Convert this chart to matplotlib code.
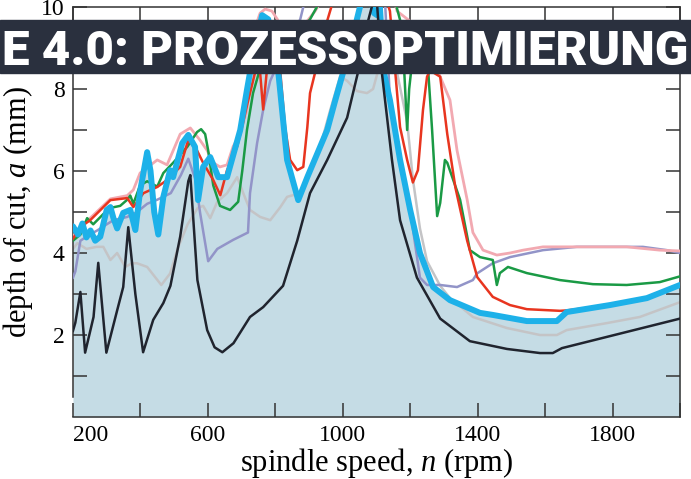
import matplotlib.pyplot as plt
from matplotlib.patches import Rectangle

plt.rcParams["font.family"] = ["Liberation Serif", "DejaVu Serif"]
plt.rcParams["mathtext.fontset"] = "custom"
plt.rcParams["mathtext.rm"] = "Liberation Serif"
plt.rcParams["mathtext.it"] = "Liberation Serif:italic"

# stability lobes, spindle speed n (rpm) vs depth of cut a (mm)
black_n = [200, 207, 222, 236, 261, 275, 299, 331, 349, 364, 385, 408, 438, 468, 489, 518, 542, 548,
           569, 598, 620, 643, 676, 725, 764, 823, 865, 903, 954, 1013, 1045, 1070, 1099, 1116, 1146,
           1170, 1220, 1289, 1377, 1487, 1585, 1623, 1650, 2000]
black_a = [2.1, 2.3, 3.05, 1.57, 2.44, 3.76, 1.57, 2.6, 3.17, 4.63, 3.0, 1.58, 2.37, 2.78, 3.2, 4.4, 5.75, 5.9,
           3.34, 2.12, 1.7, 1.58, 1.8, 2.44, 2.68, 3.2, 4.3, 5.46, 6.27, 7.3, 8.4, 9.5, 10.4, 8.4, 6.27,
           4.8, 3.4, 2.4, 1.85, 1.66, 1.56, 1.56, 1.68, 2.4]

cyan_n = [200, 215, 228, 240, 252, 266, 281, 300, 311, 320, 331, 349, 370, 385, 399, 420, 430, 441, 453,
          468, 488, 497, 524, 542, 562, 571, 586, 607, 631, 657, 696, 716, 725, 740, 761, 779, 800, 809,
          835, 868, 895, 954, 977, 1001, 1030, 1051, 1057, 1081, 1093, 1102, 1108, 1122, 1140, 1170,
          1200, 1229, 1268, 1318, 1407, 1445, 1546, 1635, 1664, 1792, 1902, 2000]
cyan_a = [4.65, 4.45, 4.72, 4.38, 4.55, 4.3, 4.4, 5.05, 5.12, 4.85, 4.6, 4.98, 5.05, 4.56, 5.5, 6.46, 6.0,
          5.0, 4.45, 5.37, 6.02, 5.85, 6.68, 6.88, 6.59, 5.29, 6.1, 6.34, 5.85, 5.85, 7.0, 7.98, 8.4, 9.0,
          9.8, 9.7, 9.0, 8.4, 6.27, 5.29, 5.85, 7.0, 7.7, 8.4, 9.3, 10.0, 10.3, 10.3, 9.85, 9.8, 10.3, 8.4,
          7.73, 6.27, 5.05, 4.0, 3.17, 2.85, 2.54, 2.49, 2.34, 2.34, 2.56, 2.73, 2.9, 3.22]

red_n = [200, 222, 251, 311, 361, 379, 409, 450, 479, 518, 542, 568, 586, 616, 637, 657, 687, 705, 716,
         740, 752, 764, 779, 797, 815, 829, 844, 865, 883, 895, 903, 918, 948, 977, 1125, 1140, 1170,
         1191, 1208, 1223, 1238, 1250, 1259, 1289, 1310, 1334, 1369, 1399, 1445, 1496, 1546, 1644,
         1664, 1792, 1902, 2000]
red_a = [4.35, 4.63, 4.8, 5.29, 5.34, 5.12, 5.46, 5.61, 5.78, 6.1, 6.76, 6.5, 6.2, 5.78, 5.41, 6.02, 6.6,
         7.2, 7.6, 8.4, 8.7, 7.5, 8.8, 9.0, 8.4, 7.07, 6.27, 6.02, 6.1, 7.07, 7.9, 8.4, 9.5, 10.3, 10.3,
         9.9, 7.07, 6.27, 5.72, 6.02, 7.49, 8.3, 8.45, 8.3, 6.9, 5.6, 4.3, 3.41, 2.93, 2.73, 2.63, 2.59,
         2.6, 2.73, 2.9, 3.2]

green_n = [200, 222, 242, 260, 290, 311, 340, 361, 370, 379, 399, 420, 450, 468, 497, 539, 568, 580,
           592, 601, 616, 636, 666, 690, 702, 716, 734, 755, 780, 815, 860, 903, 930, 939, 1150, 1176,
           1185, 1191, 1197, 1205, 1253, 1265, 1280, 1289, 1303, 1310, 1348, 1377, 1407, 1445, 1457,
           1466, 1490, 1546, 1644, 1742, 1842, 1940, 2000]
green_a = [4.3, 4.45, 4.85, 4.7, 4.95, 5.1, 5.15, 5.3, 5.4, 5.2, 5.65, 5.75, 5.62, 5.95, 6.2, 6.59, 6.95,
           7.02, 6.9, 6.5, 5.65, 5.15, 5.05, 5.25, 6.0, 7.0, 7.9, 8.5, 8.8, 9.0, 9.3, 9.7, 10.1, 10.3,
           10.3, 9.5, 8.0, 7.0, 8.0, 8.6, 8.5, 7.0, 4.9, 5.22, 6.27, 6.2, 5.3, 4.07, 3.9, 3.83, 3.22,
           3.51, 3.66, 3.51, 3.34, 3.24, 3.22, 3.29, 3.43]

pink_n = [200, 222, 251, 311, 361, 379, 399, 450, 479, 518, 548, 577, 598, 616, 636, 657, 675, 696, 716,
          728, 740, 755, 770, 790, 806, 830, 870, 918, 948, 1149, 1161, 1208, 1259, 1289, 1318, 1339,
          1369, 1386, 1416, 1457, 1496, 1535, 1594, 1694, 1842, 1940, 2000]
pink_a = [4.4, 4.65, 4.85, 5.32, 5.4, 5.54, 5.95, 6.27, 6.15, 6.9, 7.05, 6.75, 6.5, 6.2, 6.1, 6.15, 6.6,
          6.9, 7.5, 8.6, 9.5, 9.85, 9.95, 9.9, 9.7, 9.2, 9.4, 9.9, 10.3, 10.3, 9.9, 9.6, 8.8, 8.3, 7.73,
          6.5, 5.3, 4.5, 4.07, 3.95, 4.0, 4.07, 4.15, 4.15, 4.15, 4.07, 4.05]

lav_n = [200, 207, 222, 250, 272, 300, 320, 361, 390, 420, 450, 490, 520, 542, 563, 577, 601, 628, 675,
         719, 725, 746, 764, 785, 829, 874, 889, 1125, 1140, 1170, 1200, 1229, 1250, 1289, 1339, 1386,
         1398, 1445, 1496, 1594, 1694, 1890, 1961, 2000]
lav_a = [3.4, 3.55, 4.3, 4.45, 4.55, 4.7, 4.8, 4.88, 5.0, 5.2, 5.3, 5.46, 5.9, 6.3, 5.8, 4.98, 3.8, 4.1,
         4.32, 4.5, 5.46, 6.68, 7.49, 8.2, 9.0, 9.7, 10.2, 10.2, 7.73, 6.27, 5.05, 3.4, 3.22, 3.22, 3.17,
         3.34, 3.5, 3.75, 3.9, 4.07, 4.15, 4.15, 4.07, 4.0]

gray_n = [200, 213, 240, 270, 290, 311, 331, 355, 375, 390, 420, 440, 462, 488, 510, 540, 570, 586, 607,
          628, 657, 687, 705, 725, 755, 785, 815, 835, 874, 903, 933, 963, 992, 1013, 1042, 1072, 1090,
          1110, 1134, 1150, 1161, 1191, 1208, 1229, 1250, 1289, 1318, 1348, 1386, 1487, 1585, 1635,
          1664, 1783, 1881, 2000]
gray_a = [4.1, 4.24, 4.1, 4.15, 4.15, 3.83, 4.0, 3.66, 3.75, 3.75, 3.66, 3.45, 3.22, 3.5, 4.1, 4.7, 5.1,
          5.15, 4.85, 5.25, 5.46, 5.85, 5.46, 5.05, 4.88, 4.8, 5.12, 5.37, 5.46, 6.02, 6.59, 7.49, 8.3,
          8.2, 7.95, 7.9, 8.0, 8.6, 9.1, 8.9, 8.4, 7.2, 5.8, 4.6, 3.8, 3.2, 2.9, 2.7, 2.44, 2.17, 2.0,
          2.0, 2.12, 2.29, 2.44, 2.8]

x_ticks = list(range(200, 2001, 200))
x_labels = ["200", "", "600", "", "1000", "", "1400", "", "1800", ""]
y_ticks = [2, 4, 6, 8, 10]
y_minor = [1, 3, 5, 7, 9]
banner_text = "E 4.0: PROZESSOPTIMIERUNG"

fig = plt.figure(figsize=(6.91, 4.79), dpi=100)
ax = fig.add_axes([0.1056, 0.1294, 0.8784, 0.856])

ax.fill_between(cyan_n, 0, cyan_a, color="#c5dce5", lw=0, zorder=1)
ax.plot(gray_n, gray_a, color="#c4c4c6", lw=1.8, zorder=2)
ax.plot(lav_n, lav_a, color="#9294c8", lw=1.8, zorder=3)
ax.plot(pink_n, pink_a, color="#f2a9b1", lw=2.0, zorder=4)
ax.plot(green_n, green_a, color="#1a9a45", lw=1.8, zorder=5)
ax.plot(red_n, red_a, color="#e8351f", lw=1.8, zorder=6)
ax.plot(cyan_n, cyan_a, color="#1db1e9", lw=4.3, zorder=7, solid_capstyle="round")
ax.plot(black_n, black_a, color="#20242e", lw=1.8, zorder=8)

ax.set_xlim(200, 2000)
ax.set_ylim(0, 10)
ax.set_xticks(x_ticks)
ax.set_xticklabels(x_labels)
ax.get_xticklabels()[0].set_ha("left")
ax.set_yticks(y_ticks)
ax.set_yticks(y_minor, minor=True)
ax.tick_params(which="both", direction="in", length=10, width=1.1, color="#333333",
               top=True, right=True, labelsize=17, pad=6)
for s in ax.spines.values():
    s.set_color("#333333")
    s.set_linewidth(1.1)
ax.spines["left"].set_bounds(0.5, 10)

ax.set_xlabel("spindle speed, $n$ (rpm)", fontsize=22, labelpad=0)
ax.set_ylabel("depth of cut, $a$ (mm)", fontsize=22, labelpad=4)

fig.add_artist(Rectangle((0, 0.8476), 1, 0.1106, transform=fig.transFigure,
                         color="#2a303e", zorder=10))
fig.text(0.996, 0.8643, banner_text, ha="right", va="baseline", color="white",
         fontsize=35.5, fontweight="black", family=["Roboto", "DejaVu Sans"],
         zorder=11)

fig.savefig("out.png", dpi=100)
